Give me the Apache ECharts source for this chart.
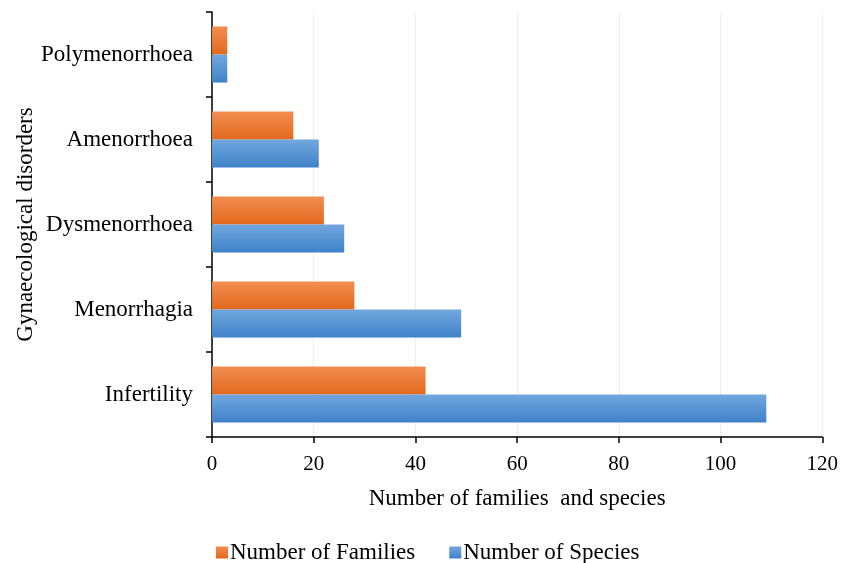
<!DOCTYPE html>
<html>
<head>
<meta charset="utf-8">
<script src="https://cdn.jsdelivr.net/npm/echarts@6/dist/echarts.min.js"></script>
<style>
  html, body { margin: 0; padding: 0; background: #fff; }
  #chart { width: 841px; height: 563px; }
</style>
</head>
<body>
<div id="chart"></div>
<script>
  // categories bottom -> top
  var disorders = ['Infertility', 'Menorrhagia', 'Dysmenorrhoea', 'Amenorrhoea', 'Polymenorrhoea'];
  var families = [42, 28, 22, 16, 3];
  var species = [109, 49, 26, 21, 3];
  var xTicks = [0, 20, 40, 60, 80, 100, 120];

  var font = '"Liberation Serif", "Times New Roman", serif';

  function grad(top, bottom) {
    return new echarts.graphic.LinearGradient(0, 0, 0, 1, [
      { offset: 0, color: top },
      { offset: 1, color: bottom }
    ]);
  }

  var myChart = echarts.init(document.getElementById('chart'));
  var option = {
    animation: false,
    textStyle: { fontFamily: font },
    grid: { left: 212, right: 18, top: 12, bottom: 126, containLabel: false },
    legend: {
      data: ['Number of Families', 'Number of Species'],
      top: 536,
      left: 211,
      itemWidth: 12,
      itemHeight: 12,
      itemGap: 34,
      icon: 'rect',
      selectedMode: false,
      textStyle: { fontFamily: font, fontSize: 23, color: '#000', padding: [0, 0, 0, -3] }
    },
    xAxis: {
      type: 'value',
      min: xTicks[0],
      max: xTicks[xTicks.length - 1],
      interval: 20,
      name: 'Number of families  and species',
      nameLocation: 'middle',
      nameGap: 50,
      nameMoveOverlap: false,
      nameTextStyle: { fontFamily: font, fontSize: 23, color: '#000' },
      axisLine: { show: true, lineStyle: { color: '#000', width: 1.5 } },
      axisTick: { show: true, length: 6, lineStyle: { color: '#000', width: 1.5 } },
      axisLabel: { fontFamily: font, fontSize: 21, color: '#000', margin: 17 },
      splitLine: { show: true, lineStyle: { color: '#dcdcdc', type: 'dotted', width: 1 } }
    },
    yAxis: {
      type: 'category',
      data: disorders,
      name: 'Gynaecological disorders',
      nameLocation: 'middle',
      nameGap: 175,
      nameRotate: 90,
      nameMoveOverlap: false,
      nameTextStyle: { fontFamily: font, fontSize: 23, color: '#000' },
      axisLine: { show: true, lineStyle: { color: '#000', width: 1.5 } },
      axisTick: { show: true, length: 6, lineStyle: { color: '#000', width: 1.5 } },
      axisLabel: { fontFamily: font, fontSize: 23, color: '#000', margin: 19 },
      splitLine: { show: false }
    },
    series: [
      {
        name: 'Number of Families',
        type: 'bar',
        data: families,
        barGap: '0%',
        barCategoryGap: '34%',
        itemStyle: { color: grad('#f28d52', '#e2691c') }
      },
      {
        name: 'Number of Species',
        type: 'bar',
        data: species,
        barGap: '0%',
        barCategoryGap: '34%',
        itemStyle: { color: grad('#72a7dd', '#3f82c9') }
      }
    ]
  };
  myChart.setOption(option);
</script>
</body>
</html>
